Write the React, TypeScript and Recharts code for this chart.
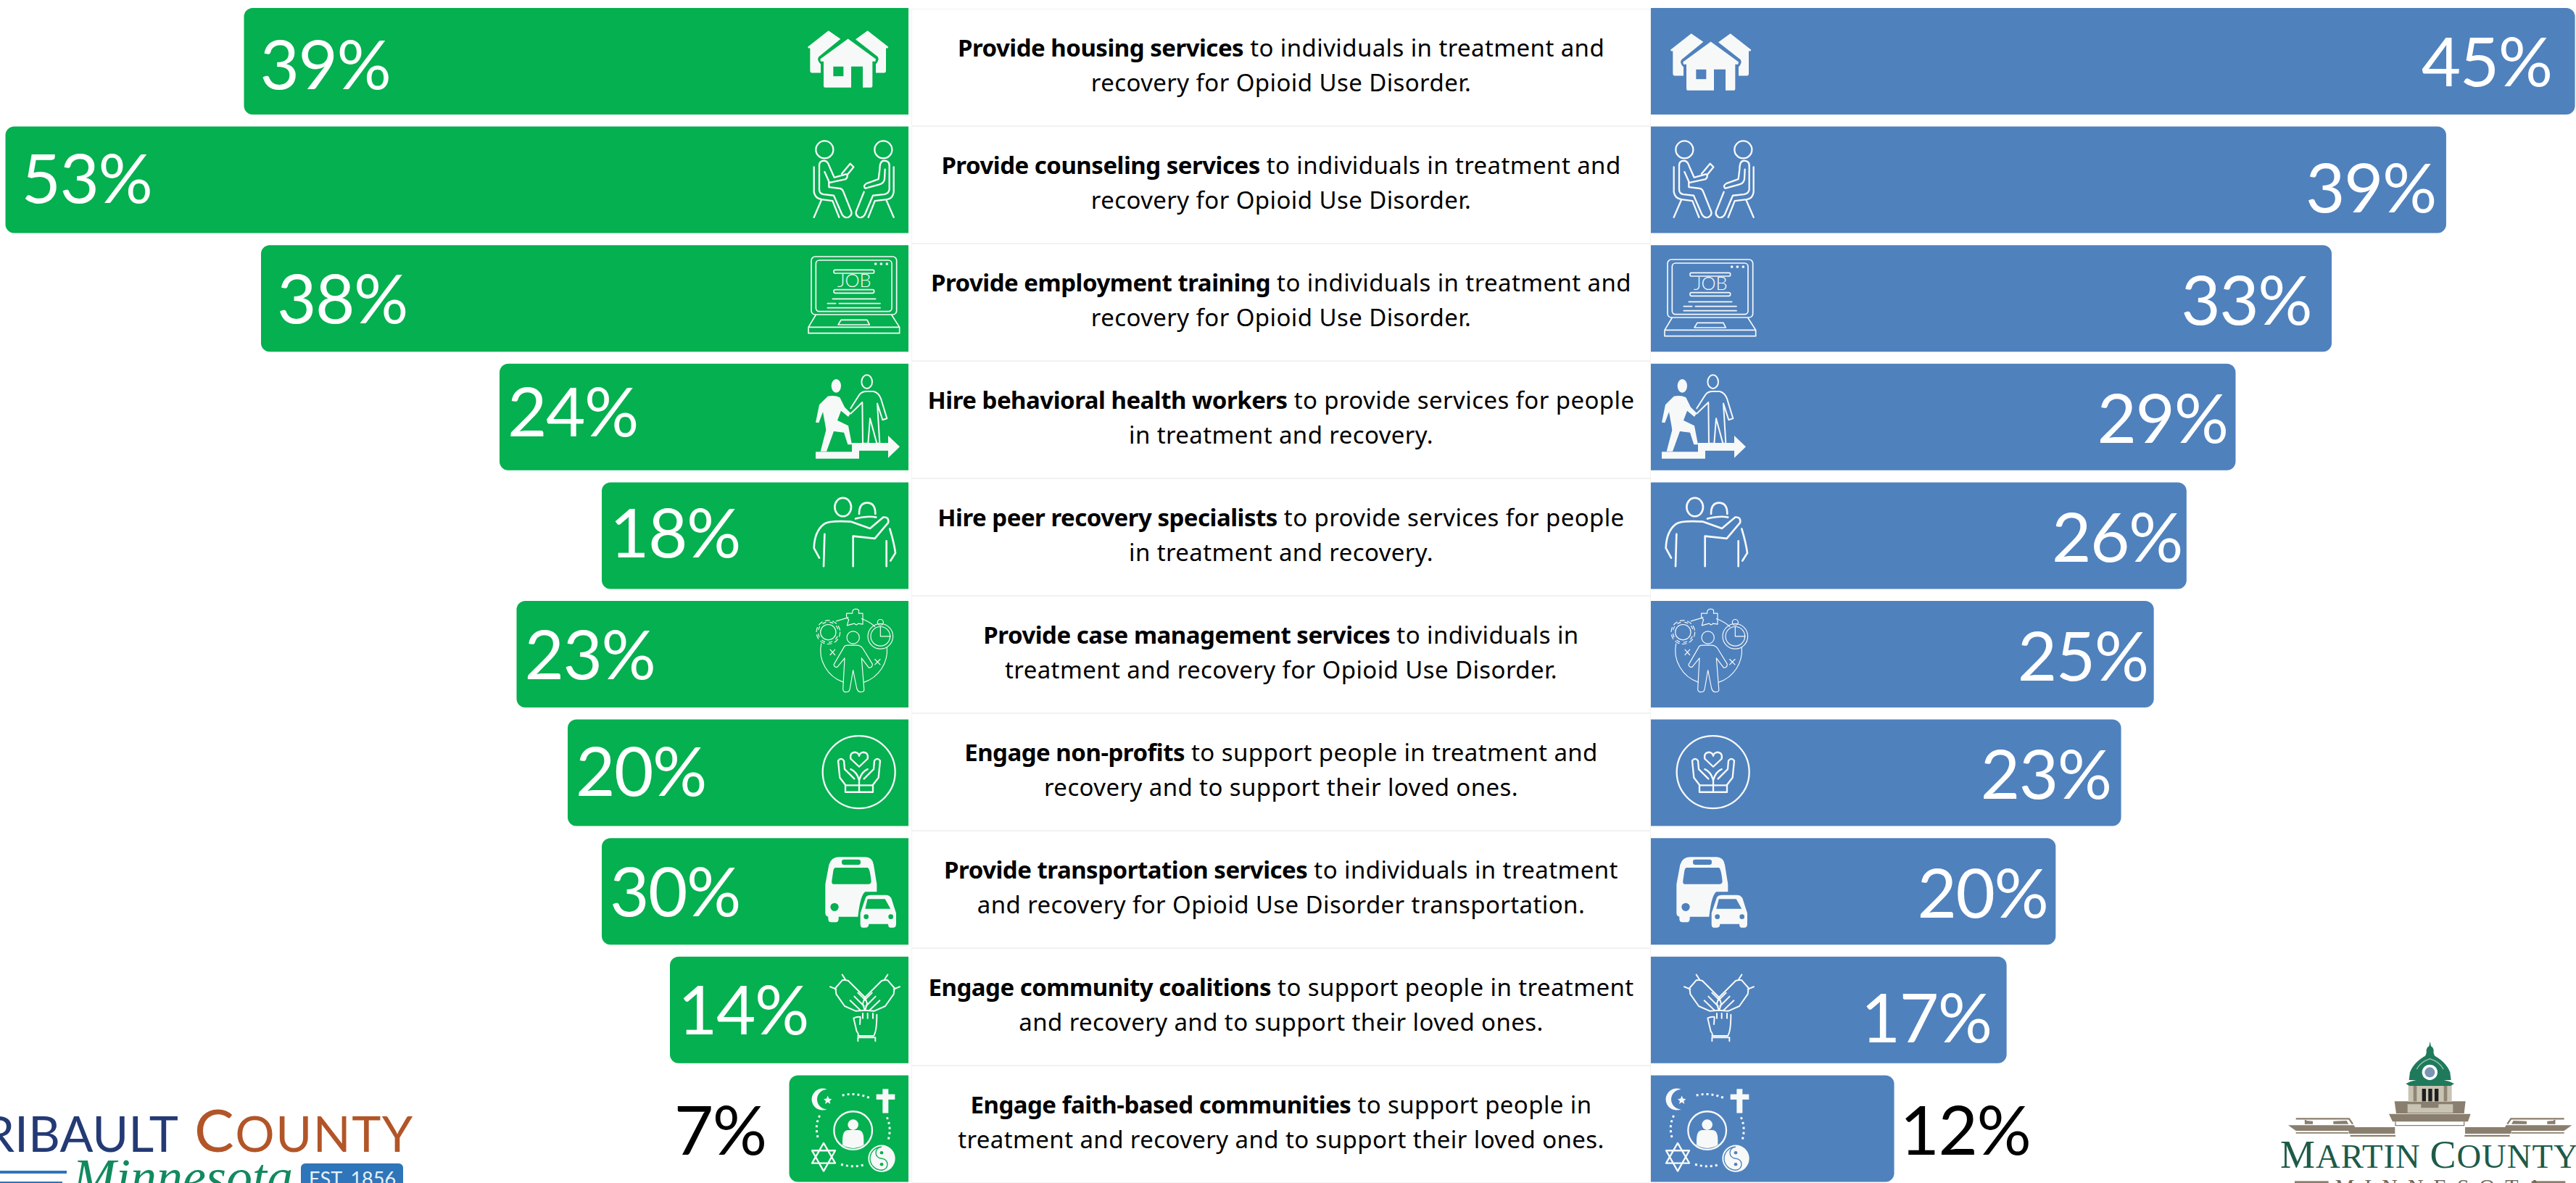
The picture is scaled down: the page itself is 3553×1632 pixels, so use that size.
import React from 'react';
import { BarChart, Bar, XAxis, YAxis, Rectangle } from 'recharts';

const boldLabels = [
  'Provide housing services',
  'Provide counseling services',
  'Provide employment training',
  'Hire behavioral health workers',
  'Hire peer recovery specialists',
  'Provide case management services',
  'Engage non-profits',
  'Provide transportation services',
  'Engage community coalitions',
  'Engage faith-based communities',
];
const firstLineRest = [
  ' to individuals in treatment and',
  ' to individuals in treatment and',
  ' to individuals in treatment and',
  ' to provide services for people',
  ' to provide services for people',
  ' to individuals in',
  ' to support people in treatment and',
  ' to individuals in treatment',
  ' to support people in treatment',
  ' to support people in',
];
const secondLines = [
  'recovery for Opioid Use Disorder.',
  'recovery for Opioid Use Disorder.',
  'recovery for Opioid Use Disorder.',
  'in treatment and recovery.',
  'in treatment and recovery.',
  'treatment and recovery for Opioid Use Disorder.',
  'recovery and to support their loved ones.',
  'and recovery for Opioid Use Disorder transportation.',
  'and recovery and to support their loved ones.',
  'treatment and recovery and to support their loved ones.',
];
// bar lengths as drawn; the 30% bar is drawn at the length of 18%, same as the picture
const leftValues = [39, 53, 38, 24, 18, 23, 20, 18, 14, 7];
const leftLabels = ['39%', '53%', '38%', '24%', '18%', '23%', '20%', '30%', '14%', '7%'];
const rightValues = [45.2, 38.9, 33.3, 28.6, 26.2, 24.6, 23, 19.8, 17.4, 11.9];
const rightLabels = ['45%', '39%', '33%', '29%', '26%', '25%', '23%', '20%', '17%', '12%'];
const rowSpans = [1, 1, 1, 1, 1, 1, 1, 1, 1, 1];

const GREEN = '#04B04F';
const BLUE = '#4F81BD';
const ICON = '#F7F9F9';

const leftData = boldLabels.map((name, i) => ({ name, value: leftValues[i] }));
const rightData = boldLabels.map((name, i) => ({ name, value: rightValues[i] }));
const centerData = boldLabels.map((name, i) => ({ name, span: rowSpans[i] }));

// hand placement, the source slide nudged these row by row
const leftLabelDy = [4, -2, 0, -7, -4, 0, -2, 0, 0, 2];
const rightLabelDy = [0, 11, 2, 2, 2, 2, 2, 2, 11, 2];
const rightLabelGaps = [32, 14, 28, 11, 6, 8, 14, 11, 21];
const rightIconDx = [0, -4, -9, -23, -15, -11, -12, -16, -12, -12];
const rightIconDy = [4, 0, 4, 0, 0, 0, 0, 0, 0, 0];

type IconProps = { bg: string };

const line = { fill: 'none', stroke: ICON, strokeLinecap: 'round' as const, strokeLinejoin: 'round' as const };

// Icons are traced in 3x pixels, from the crop of each row
const HouseIcon = ({ bg }: IconProps) => (
  <g transform="translate(-459,-224)">
    <path fill={ICON} d="M42,165 L128,97 L178,132 L88,205 Q78,218 96,236 L96,272 L60,272 Q52,272 52,262 L52,170 L45,170 Z" />
    <path fill={ICON} d="M376,165 L290,97 L240,133 L332,205 Q340,218 324,236 L324,272 L358,272 Q366,272 366,262 L366,170 L373,170 Z" />
    <path fill={ICON} d="M209,131 L324,215 L322,225 L310,225 L310,325 Q310,333 302,333 L270,333 L270,246 L222,246 L222,333 L116,333 Q108,333 108,325 L108,225 L96,225 L94,215 Z" />
    <rect x={148} y={246} width={42} height={40} fill={bg} />
  </g>
);

const CounselIcon = () => (
  <g transform="translate(-459,-715)" {...line} strokeWidth={7}>
    <circle cx={112} cy={590} r={36} />
    <circle cx={355} cy={590} r={36} />
    <path d="M68,662 L68,765 Q72,792 100,796 L145,802 L172,870 M98,800 L68,870" />
    <path d="M90,655 L90,755 Q90,772 108,775 L150,780 L185,860 Q195,875 210,870 Q228,860 222,845 L190,765 Q185,750 170,750 L130,745 L130,722 L112,682" />
    <path d="M90,655 Q90,636 110,636 Q125,636 132,660 L152,705 L200,692 Q210,690 205,705 L200,712 L130,727" />
    <path d="M183,690 L218,648 L232,662 L205,695" />
    <path d="M398,662 L398,765 Q395,792 370,796 L320,802 L293,870 M368,800 L398,870" />
    <path d="M380,655 L380,755 Q378,772 358,775 L312,780 L278,860 Q268,875 253,870 Q238,860 243,845 L275,765" />
    <path d="M340,672 Q340,636 358,636 Q380,636 380,655 M340,672 L335,712 L285,730 Q270,740 280,750 L335,735 Q358,730 360,712 L362,672" />
  </g>
);

const JobIcon = () => (
  <g transform="translate(-459,-1206)" {...line} strokeWidth={5}>
    <rect x={57} y={1033} width={353} height={240} rx={16} />
    <rect x={76} y={1048} width={314} height={212} rx={14} />
    <rect x={150} y={1088} width={167} height={14} rx={6} />
    <rect x={150} y={1170} width={167} height={14} rx={6} />
    <path d="M145,1208 L323,1208 M124,1227 L158,1227 M172,1227 L342,1227 M124,1245 L342,1245" />
    <path d="M75,1275 L45,1325 L45,1350 L422,1350 L422,1325 L390,1275 M45,1325 L422,1325" />
    <path d="M168,1315 L180,1295 L288,1295 L298,1315 Z" />
    <circle cx={323} cy={1063} r={3} fill={ICON} />
    <circle cx={346} cy={1063} r={3} fill={ICON} />
    <circle cx={370} cy={1063} r={3} fill={ICON} />
    <text x={235} y={1160} textAnchor="middle" fontFamily="Lato" fontWeight={300} fontSize={76} fill={ICON} stroke="none">JOB</text>
  </g>
);

const ClimbIcon = () => (
  <g transform="translate(-489,-226)">
    <ellipse cx={190} cy={97} rx={20} ry={28} fill={ICON} />
    <path fill={ICON} d="M120,175 L155,140 Q185,135 205,145 L225,185 L250,210 L240,225 L210,200 L195,240 L240,262 L255,340 L238,340 L222,290 L180,285 L150,368 L125,368 L148,280 L145,260 L135,205 L118,250 L105,248 Z" />
    <path fill={ICON} d="M105,370 L255,370 L255,333 L405,333 L405,303 L453,349 L405,395 L405,365 L285,365 L285,398 L105,398 Z" />
    <g {...line} strokeWidth={6}>
      <ellipse cx={317} cy={80} rx={22} ry={28} />
      <path d="M250,190 L285,135 Q295,120 315,120 L345,120 Q365,125 375,150 L400,232 L382,238 L360,170 L370,335 L358,335 L330,232 L322,335 L300,335 L298,165 L250,212" />
    </g>
  </g>
);

const PeerIcon = () => (
  <g transform="translate(-759,-268)" {...line} strokeWidth={8}>
    <ellipse cx={488} cy={150} rx={34} ry={38} />
    <path d="M555,178 Q555,132 588,132 Q622,132 622,178 M540,198 Q590,185 625,192" />
    <path d="M390,360 L368,320 Q370,250 410,220 Q430,205 520,210 L600,238 L655,192 Q680,190 675,215 L620,280 L530,270 L530,395" />
    <path d="M412,262 L408,395 M682,240 Q700,300 705,340 L685,372 M668,290 L668,395" />
  </g>
);

const CaseIcon = () => (
  <g transform="translate(-759,-759)" {...line} strokeWidth={3.5}>
    <circle cx={427} cy={668} r={32} />
    <circle cx={427} cy={668} r={49} strokeDasharray="18 13" />
    <circle cx={427} cy={668} r={42} strokeDasharray="13 18" strokeDashoffset={-18} />
    <path d="M503,590 L527,590 Q525,572 542,572 Q558,572 553,590 L570,590 L570,635 L550,632 Q545,642 535,632 L505,640 L512,615 Q500,612 503,590 Z" />
    <circle cx={643} cy={685} r={52} />
    <circle cx={643} cy={685} r={40} />
    <circle cx={643} cy={627} r={12} />
    <path d="M643,645 L643,685 L685,685" />
    <path d="M398,715 A140 140 0 0 0 490,875 M670,730 A140 140 0 0 1 575,875 M460,622 L510,607 M565,612 Q600,625 620,645" />
    <circle cx={530} cy={690} r={26} />
    <path d="M495,725 L450,802 Q452,815 465,812 L495,775 L488,905 Q490,918 505,915 Q515,915 517,900 L530,825 L545,900 Q550,918 565,915 Q578,915 575,900 L565,775 L595,815 Q610,815 610,800 L570,735 Q560,722 545,722 L510,722 Q500,722 495,725 Z" />
    <path d="M435,740 L455,762 M455,740 L435,762 M620,780 L642,802 M642,780 L620,802" />
  </g>
);

const CareIcon = () => (
  <g transform="translate(-489,-230)" {...line} strokeWidth={7}>
    <circle cx={284} cy={227} r={150} />
    <path d="M285,205 L250,172 Q245,145 270,145 Q283,148 285,160 Q287,148 300,145 Q325,145 320,172 Z" />
    <path d="M228,280 L205,250 L198,180 Q210,165 222,180 L225,215 L265,255 M250,215 Q275,225 285,260 L285,310" />
    <path d="M342,280 L365,250 L372,180 Q360,165 348,180 L345,215 L305,255 M320,215 Q295,225 285,260" />
    <rect x={228} y={282} width={114} height={28} />
  </g>
);

const TransportIcon = ({ bg }: IconProps) => (
  <g transform="translate(-489,-720)">
    <path fill={ICON} d="M145,690 L160,610 Q170,578 200,578 L310,578 Q340,578 345,610 L358,690 L358,722 L310,722 Q290,735 280,825 L200,825 L200,835 Q200,848 185,848 L170,848 Q157,848 157,835 L157,825 Q145,822 145,810 Z" />
    <path fill={bg} d="M188,622 L320,622 Q330,625 335,680 Q333,690 325,690 L178,690 Q170,688 172,675 L178,635 Q180,622 188,622 Z" />
    <rect x={213} y={588} width={78} height={22} rx={10} fill={bg} />
    <circle cx={183} cy={785} r={17} fill={bg} />
    <path fill={ICON} d="M290,810 L312,745 Q318,735 335,735 L395,735 Q410,735 418,748 L438,810 L438,855 Q438,870 425,870 L415,870 Q405,870 405,855 L325,855 Q325,870 310,870 L300,870 Q290,870 290,855 Z" />
    <path fill={bg} d="M320,752 L392,752 L415,792 L310,792 Z" />
    <circle cx={314} cy={825} r={10} fill={bg} />
    <circle cx={416} cy={825} r={10} fill={bg} />
  </g>
);

const CoalitionHand = () => (
  <path d="M215,98 L187,130 L190,155 L225,205 L270,225 L310,222 L318,195 L310,170 L240,100 Q225,95 215,98 M280,150 L310,180 M265,165 L305,205 M248,182 L290,222 M215,75 L228,95 M165,125 L190,135" />
);

const CoalitionIcon = () => (
  <g transform="translate(-489,-221)" {...line} strokeWidth={6}>
    <CoalitionHand />
    <g transform="translate(618,0) scale(-1,1)">
      <CoalitionHand />
    </g>
    <path d="M262,255 L275,310 Q285,322 280,328 L345,328 Q358,310 358,240 M262,255 Q275,248 290,250 L288,280 M300,235 L300,255 M320,235 L320,255 M342,235 L342,255 M280,350 L280,335 L352,335 L352,350" />
  </g>
);

const FaithIcon = ({ bg }: IconProps) => (
  <g transform="translate(-489,-712)">
    <path fill={ICON} d="M152,550 A45 45 0 1 0 152,632 A38 38 0 1 1 152,550 Z" />
    <path fill={ICON} d="M155,576 L160,588 L172,590 L163,598 L166,610 L155,603 L144,610 L147,598 L138,590 L150,588 Z" />
    <rect x={382} y={548} width={24} height={100} fill={ICON} />
    <rect x={356} y={570} width={77} height={22} fill={ICON} />
    <g {...line} strokeLinecap="butt" strokeWidth={9} strokeDasharray="9 12">
      <path d="M215,575 Q270,560 333,587" />
      <path d="M122,658 Q100,700 115,752" />
      <path d="M400,665 Q420,710 405,760" />
      <path d="M210,860 Q260,875 305,862" />
    </g>
    <circle cx={260} cy={720} r={79} fill="none" stroke={ICON} strokeWidth={7} />
    <circle cx={260} cy={696} r={22} fill={ICON} />
    <path fill={ICON} d="M216,760 Q216,718 240,718 L282,718 Q304,718 304,760 L304,780 Q260,806 216,780 Z" />
    <path {...line} strokeWidth={7} d="M138,772 L186,855 L90,855 Z M138,888 L90,803 L186,803 Z" />
    <circle cx={378} cy={836} r={56} fill={ICON} />
    <path fill="none" stroke={bg} strokeWidth={4} d="M378,788 A48 48 0 0 0 378,884 A24 24 0 0 0 378,836 A24 24 0 0 1 378,788" />
    <circle cx={378} cy={812} r={7} fill={bg} />
    <circle cx={378} cy={860} r={7} fill={bg} />
  </g>
);

const icons: React.FC<IconProps>[] = [
  HouseIcon, CounselIcon, JobIcon, ClimbIcon, PeerIcon,
  CaseIcon, CareIcon, TransportIcon, CoalitionIcon, FaithIcon,
];

const valueFont = { fontFamily: 'Lato', fontSize: 94, fontWeight: 400, letterSpacing: -1.5 };

const LeftBarShape = (props: any) => {
  const { x, y, width, height, index } = props;
  const left = Math.min(x, x + width);
  const right = Math.max(x, x + width);
  const Icon = icons[index];
  const cy = y + height / 2;
  const inside = index < 9;
  const gap = right - left > 600 ? 22 : 11;
  return (
    <g>
      <Rectangle x={left} y={y} width={right - left} height={height} radius={[12, 0, 0, 12]} fill={GREEN} />
      <g transform={`translate(${right},${cy}) scale(0.3333)`}>
        <Icon bg={GREEN} />
      </g>
      <text
        x={inside ? left + gap : left - 32}
        y={cy + 34 + leftLabelDy[index]}
        textAnchor={inside ? 'start' : 'end'}
        fill={inside ? '#fff' : '#000'}
        {...valueFont}
      >
        {leftLabels[index]}
      </text>
    </g>
  );
};

const RightBarShape = (props: any) => {
  const { x, y, width, height, index } = props;
  const Icon = icons[index];
  const cy = y + height / 2;
  const inside = index < 9;
  return (
    <g>
      <Rectangle x={x} y={y} width={width} height={height} radius={[0, 12, 12, 0]} fill={BLUE} />
      <g transform={`translate(${x + 166 + rightIconDx[index]},${cy + rightIconDy[index]}) scale(0.3333)`}>
        <Icon bg={BLUE} />
      </g>
      <text
        x={inside ? x + width - rightLabelGaps[index] : x + width + 8}
        y={cy + 34 + rightLabelDy[index]}
        textAnchor={inside ? 'end' : 'start'}
        fill={inside ? '#fff' : '#000'}
        {...valueFont}
      >
        {rightLabels[index]}
      </text>
    </g>
  );
};

const CenterShape = (props: any) => {
  const { x, y, width, height, index } = props;
  const mid = x + width / 2;
  const cy = y + height / 2 - 3;
  return (
    <g>
      <rect x={x} y={y} width={width} height={height} fill="#fff" stroke="#F2F2F2" strokeWidth={2} />
      <text x={mid} y={cy - 12} textAnchor="middle" fontFamily="'Noto Sans'" fontSize={33} fill="#000">
        <tspan fontWeight={700} letterSpacing={-0.5}>{boldLabels[index]}</tspan>
        <tspan xmlSpace="preserve" letterSpacing={0.4}>{firstLineRest[index]}</tspan>
      </text>
      <text x={mid} y={cy + 36} textAnchor="middle" fontFamily="'Noto Sans'" fontSize={33} letterSpacing={0.4} fill="#000">
        {secondLines[index]}
      </text>
    </g>
  );
};

const FaribaultLogo = () => (
  <g>
    <text x={246} y={1589} textAnchor="end" fontFamily="Lato" fontWeight={400} fontSize={68} fill="#233A75">FARIBAULT</text>
    <text x={268} y={1589} fontFamily="Lato" fontWeight={400} fontSize={68} letterSpacing={1.5} fill="#B25528">
      <tspan fontSize={82}>C</tspan>OUNTY
    </text>
    <rect x={0} y={1615} width={92} height={4} fill="#2E75B9" />
    <rect x={0} y={1630} width={86} height={4} fill="#2E75B9" />
    <text x={100} y={1648} fontFamily="'Liberation Serif'" fontStyle="italic" fontSize={72} fill="#118A5E">Minnesota</text>
    <rect x={415} y={1605} width={141} height={50} rx={6} fill="#2E75B9" />
    <text x={486} y={1636} textAnchor="middle" fontFamily="Lato" fontSize={27} fill="#E8F0F8">EST. 1856</text>
  </g>
);

const MartinWing = () => (
  <g>
    <path fill="#8A7F6E" d="M78,397 L350,397 L355,405 L520,405 L520,432 L330,432 L328,420 L110,420 Z" />
    <path fill="#8A7F6E" d="M335,437 L522,437 L522,444 L335,444 Z M110,426 L328,426 L328,431 L110,431 Z" />
    <path fill="none" stroke="#8A7F6E" strokeWidth={7} d="M110,370 L330,370 L345,392 M150,375 L150,392" />
    <path fill="#8A7F6E" d="M150,378 L180,380 L180,392 L150,392 Z M265,380 L320,378 L328,392 L265,392 Z" />
  </g>
);

const MartinLogo = () => (
  <g transform="translate(3130,1420) scale(0.3333)">
    <MartinWing />
    <g transform="translate(1330,0) scale(-1,1)">
      <MartinWing />
    </g>
    <path fill="#8A7F6E" d="M495,350 L833,350 L822,382 L510,382 Z" />
    <path fill="none" stroke="#8A7F6E" strokeWidth={4} d="M520,398 L808,398 M522,382 L522,398 M806,382 L806,398" />
    <path fill="#8A7F6E" d="M518,298 L812,298 L806,348 L525,348 Z" />
    <path fill="#C9C3B4" d="M572,310 L628,310 L628,325 L700,325 L700,310 L760,310 L760,345 L572,345 Z" />
    <rect x={575} y={225} width={180} height={75} fill="#C9C3B4" />
    <path fill="#8F8676" d="M596,228 L610,228 L610,298 L596,298 Z M722,228 L736,228 L736,298 L722,298 Z" />
    <rect x={632} y={246} width={16} height={52} fill="#1E1E1E" />
    <rect x={658} y={246} width={16} height={52} fill="#1E1E1E" />
    <rect x={684} y={246} width={16} height={52} fill="#1E1E1E" />
    <path fill="#1F7A5C" d="M565,225 Q600,205 665,205 Q730,205 765,225 L750,234 L580,234 Z" />
    <path fill="#1F7A5C" d="M578,210 L582,178 Q600,130 665,100 Q730,130 748,178 L752,210 Z" />
    <path fill="none" stroke="#9CC7B6" strokeWidth={4} d="M610,165 Q625,135 665,122 Q705,135 720,165" />
    <path fill="#1F7A5C" d="M661,70 L665,50 L669,70 Q682,75 680,98 L686,115 L644,115 L650,98 Q648,75 661,70 Z" />
    <circle cx={664} cy={178} r={32} fill="#fff" />
    <circle cx={664} cy={178} r={21} fill="#7C94B4" />
    <text y={572} x={45} fontFamily="'Liberation Serif'" fill="#1D5B48" fontSize={140} letterSpacing={3}>
      <tspan fontSize={162}>M</tspan>ARTIN <tspan fontSize={162}>C</tspan>OUNTY
    </text>
    <rect x={105} y={628} width={140} height={9} fill="#8A7F6E" />
    <rect x={1085} y={628} width={140} height={9} fill="#8A7F6E" />
    <text x={272} y={682} fontFamily="'Liberation Serif'" fontSize={90} letterSpacing={42} fill="#6F6656">MINNESOTA</text>
  </g>
);

const App: React.FC = () => {
  return (
    <div style={{ position: 'absolute', left: 0, top: 0, width: 3553, height: 1632, overflow: 'hidden', background: '#fff' }}>
      <div style={{ position: 'absolute', left: 1257, top: 12 }}>
        <BarChart width={1020} height={1620} data={centerData} layout="vertical" barCategoryGap={0} margin={{ top: 0, right: 0, bottom: 0, left: 0 }}>
          <XAxis type="number" domain={[0, 1]} hide />
          <YAxis type="category" dataKey="name" hide />
          <Bar dataKey="span" isAnimationActive={false} shape={CenterShape} />
        </BarChart>
      </div>
      <div style={{ position: 'absolute', left: 0, top: 3 }}>
        <BarChart width={1253} height={1636} data={leftData} layout="vertical" barSize={147} margin={{ top: 0, right: 0, bottom: 0, left: 0 }}>
          <XAxis type="number" domain={[0, 53.32]} reversed hide />
          <YAxis type="category" dataKey="name" hide />
          <Bar dataKey="value" isAnimationActive={false} shape={LeftBarShape} />
        </BarChart>
      </div>
      <div style={{ position: 'absolute', left: 2277, top: 3 }}>
        <BarChart width={1276} height={1636} data={rightData} layout="vertical" barSize={147} margin={{ top: 0, right: 0, bottom: 0, left: 0 }}>
          <XAxis type="number" domain={[0, 45.25]} hide />
          <YAxis type="category" dataKey="name" hide />
          <Bar dataKey="value" isAnimationActive={false} shape={RightBarShape} />
        </BarChart>
      </div>
      <svg width={3553} height={1632} style={{ position: 'absolute', left: 0, top: 0, pointerEvents: 'none' }}>
        <FaribaultLogo />
        <MartinLogo />
      </svg>
    </div>
  );
};

export default App;
